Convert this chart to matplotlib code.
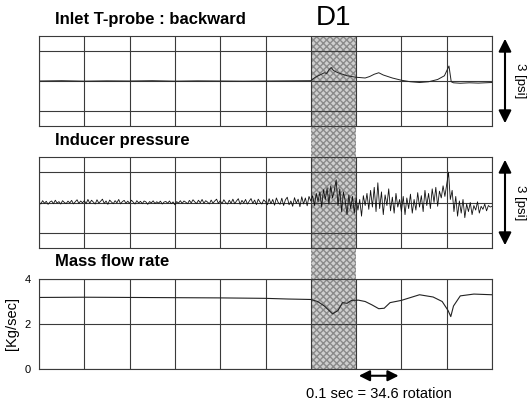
import numpy as np
import matplotlib.pyplot as plt
from matplotlib.patches import Rectangle, FancyArrowPatch

plt.rcParams['font.family'] = ['Liberation Sans', 'DejaVu Sans']

# time axis [sec], one grid division = 0.1 sec
t_span = (0.0, 1.0)
shade_span = (0.6, 0.7)
scale_span = (0.7, 0.8)

# Inlet T-probe : backward [psi]
probe_t = [0, .05, .10, .15, .20, .25, .30, .35, .40, .45, .50, .55, .60, .61, .62, .63, .635,
           .64, .645, .65, .66, .67, .68, .70, .72, .73, .74, .75, .76, .78, .80, .82, .84,
           .86, .88, .895, .905, .91, .915, .93, .95, .97, 1.0]
probe_p = [0, .02, -.01, .01, 0, .02, -.01, .01, 0, -.01, 0, .01, .02, .25, .40, .55, .50,
           .75, .90, .70, .55, .45, .35, .25, .20, .30, .45, .55, .40, .20, .05, -.05, -.10,
           -.05, .10, .35, 1.0, -.05, -.12, -.15, -.12, -.14, -.10]

# Inducer pressure [psi], evenly sampled over 0..1 sec
inducer_p = [
    0.05, -0.10, 0.12, -0.05, 0.08, -0.12, 0.03, 0.10, -0.08, 0.15, -0.04, 0.06, -0.10,
    0.12, 0.00, -0.07, 0.09, -0.03, 0.14, -0.09, 0.05, 0.18, -0.06, 0.10, -0.02,
    0.12, -0.08, 0.20, -0.05, 0.15, 0.02, -0.10, 0.18, -0.04, 0.08, 0.22, -0.06, 0.10,
    -0.12, 0.16, 0.03, -0.08, 0.12, -0.02, 0.20, -0.09, 0.06, 0.14, -0.05, 0.09,
    -0.06, 0.15, 0.02, -0.10, 0.12, -0.03, 0.08, -0.08, 0.10, 0.04, -0.12, 0.06, -0.02,
    0.11, -0.07, 0.05, -0.04, 0.09, -0.10, 0.03, 0.07, -0.05, 0.10, -0.08, 0.04,
    -0.15, 0.06, -0.04, 0.12, -0.06, 0.10, 0.02, -0.08, 0.14, -0.03, 0.18, 0.04, -0.07,
    0.15, -0.02, 0.20, -0.05, 0.12, 0.03, -0.09, 0.16, -0.04, 0.10, 0.22, -0.06,
    0.12, -0.08, 0.18, 0.00, -0.10, 0.15, -0.05, 0.22, -0.08, 0.10, 0.25, -0.12, 0.14,
    -0.03, 0.20, -0.10, 0.08, 0.26, -0.06, 0.16, -0.14, 0.22, 0.02, -0.10, 0.18,
    0.05, -0.15, 0.25, -0.08, 0.20, -0.18, 0.30, 0.00, -0.12, 0.28, -0.20, 0.18, 0.35,
    -0.15, 0.10, -0.25, 0.32, -0.05, 0.22, -0.28, 0.38, -0.10, 0.30, -0.22, 0.40,
    0.10, 0.45, -0.20, 0.60, 0.05, 0.70, -0.30, 0.85, 0.20, 0.95, -0.10, 1.10, 0.30,
    0.80, 1.50, -0.20, 0.90, -0.60, 0.70, 0.10, -0.80, 0.50, -0.40, 0.40, -0.70,
    0.30, -0.50, 0.20, -0.90, 0.45, -0.20, 0.60, -0.45, 0.80, -0.30, 1.00, -0.60, 1.30,
    -0.40, 0.70, -0.80, 0.50, -0.20, 0.90, -0.55, 0.35, -0.70, 0.60, -0.30, 0.20,
    -0.60, 0.40, -0.80, 0.30, -0.40, 0.55, -0.70, 0.20, -0.50, 0.65, -0.30, 0.45, -0.60,
    0.80, -0.20, 0.60, -0.40, 0.90, 0.00, 1.00, -0.25, 0.75, 0.30, 1.10, 0.40,
    1.20, 2.00, 0.20, 0.80, -0.60, 0.40, -0.90, 0.10, -0.70, 0.20, -1.00, -0.10, -0.60,
    0.00, -0.80, -0.20, -0.50, 0.05, -0.70, -0.25, -0.45, -0.10, -0.55, -0.20, -0.30,
    -0.25]

# Mass flow rate [kg/sec]
flow_t = [0, .10, .20, .30, .40, .50, .55, .60, .615, .63, .648, .66, .67, .68, .69, .705,
          .72, .735, .75, .762, .775, .80, .84, .87, .89, .903, .909, .915, .93, .96, 1.0]
flow_m = [3.18, 3.19, 3.18, 3.17, 3.16, 3.14, 3.11, 3.09, 3.00, 2.80, 2.45, 2.60, 2.95,
          2.92, 3.05, 3.06, 3.00, 2.85, 2.68, 2.70, 2.95, 3.05, 3.30, 3.20, 3.00, 2.60,
          2.33, 2.80, 3.25, 3.33, 3.30]

titles = ['Inlet T-probe : backward', 'Inducer pressure', 'Mass flow rate']
flow_ticks = [0, 2, 4]

W, H = 528, 403
fig = plt.figure(figsize=(W/100, H/100), dpi=100)

# axes boxes in pixels (left, top, right, bottom)
boxes = [(39, 36, 492, 126), (39, 157, 492, 248), (39, 279, 492, 369)]
axes = []
for (l, tp, r, b) in boxes:
    ax = fig.add_axes([l/W, 1-b/H, (r-l)/W, (b-tp)/H])
    ax.set_facecolor('none')
    ax.set_xlim(*t_span)
    ax.set_xticks(np.arange(0, 1.01, 0.1))
    ax.tick_params(length=0, labelbottom=False, labelleft=False)
    ax.grid(True, color='#3a3a3a', lw=0.8)
    for s in ax.spines.values():
        s.set_color('#3a3a3a')
        s.set_linewidth(0.8)
    axes.append(ax)

ax1, ax2, ax3 = axes
for ax in (ax1, ax2):
    ax.set_ylim(-3, 3)
    ax.set_yticks([-2, 0, 2])

ax1.plot(probe_t, probe_p, color='#222222', lw=0.7)
ax2.plot(np.linspace(0, 1, len(inducer_p)), inducer_p, color='#111111', lw=0.6)

ax3.set_ylim(0, 4)
ax3.set_yticks(flow_ticks)
ax3.tick_params(labelleft=True, labelsize=8, pad=6)
ax3.plot(flow_t, flow_m, color='#222222', lw=0.8)
ax3.set_ylabel('[Kg/sec]', fontsize=10.5, labelpad=4)

# shaded D1 window through all three panels
p1 = ax1.get_position()
p3 = ax3.get_position()
x0 = p1.x0 + p1.width*(shade_span[0]-t_span[0])/(t_span[1]-t_span[0])
x1 = p1.x0 + p1.width*(shade_span[1]-t_span[0])/(t_span[1]-t_span[0])
fig.patches.append(Rectangle((x0, p3.y0), x1-x0, p1.y1-p3.y0, transform=fig.transFigure,
                             facecolor='#cfcfcf', edgecolor='#8a8a8a', hatch='xxxxx',
                             lw=0, zorder=-1))
fig.text((x0+x1)/2, 1-18/H, 'D1', fontsize=20, ha='center', va='center')

for ax, title in zip(axes, titles):
    pos = ax.get_position()
    fig.text(55/W, pos.y1 + 17/H, title, fontsize=12, fontweight='bold', va='center')

# 3 [psi] double arrows
for ax in (ax1, ax2):
    pos = ax.get_position()
    fig.add_artist(FancyArrowPatch(
        (505/W, pos.y0), (505/W, pos.y1), transform=fig.transFigure,
        arrowstyle='<|-|>', mutation_scale=19, lw=1.5, color='black'))
    fig.text(520/W, (pos.y0+pos.y1)/2, '3 [psi]', rotation=270, fontsize=9.5,
             ha='center', va='center')

# time scale arrow under mass flow panel
ax3.annotate('', xy=(scale_span[1], -0.3), xytext=(scale_span[0], -0.3),
             xycoords='data', annotation_clip=False,
             arrowprops=dict(arrowstyle='<|-|>', mutation_scale=16, lw=1.5, color='black'))
ax3.text(sum(scale_span)/2, -1.1, '0.1 sec = 34.6 rotation', fontsize=10.5,
         ha='center', va='center')

fig.savefig('out.png', dpi=100)
